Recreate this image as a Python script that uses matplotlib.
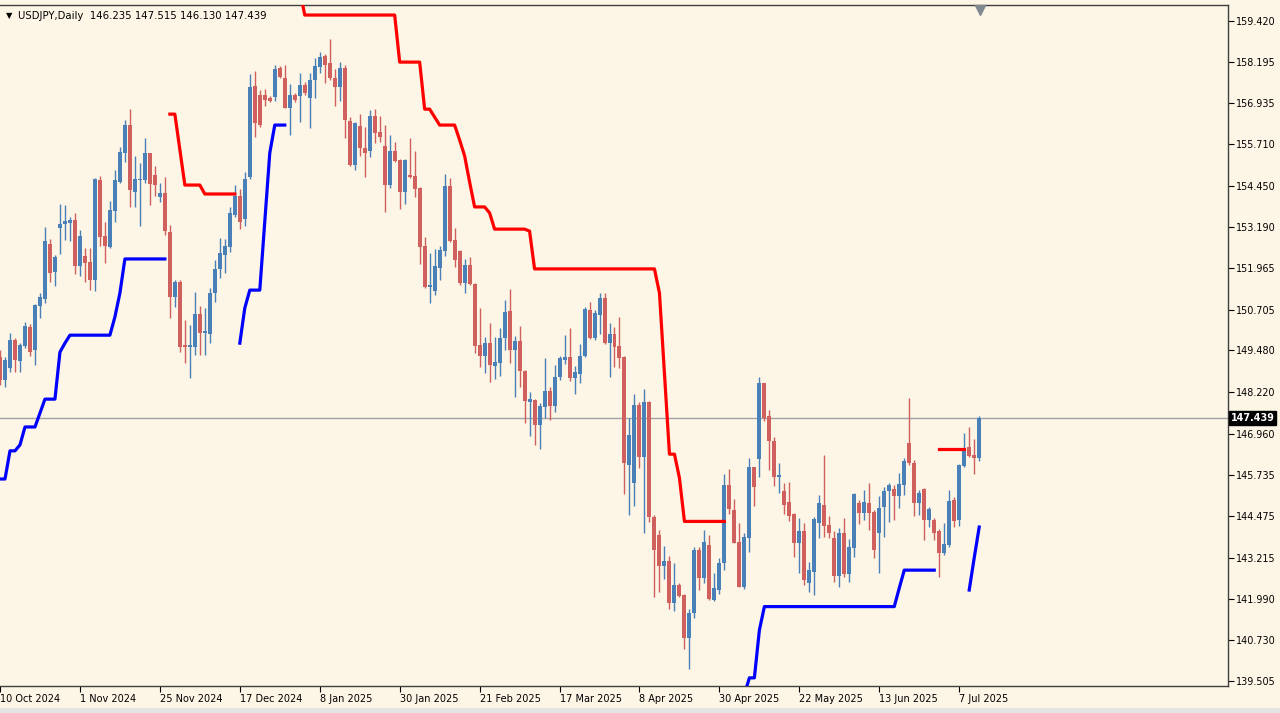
import numpy as np
import pandas as pd
import matplotlib.pyplot as plt
from matplotlib.patches import Rectangle

# USDJPY daily candles, 10 Oct 2024 .. 11 Jul 2025 (one bar per weekday)
dates = pd.bdate_range('2024-10-10', periods=197)

opens = [149.29, 148.59, 148.94, 149.78, 149.17, 149.60, 150.18, 149.50, 150.82, 151.03,
         152.69, 151.86, 153.16, 153.29, 153.32, 153.42, 152.03, 152.33, 152.14, 151.61,
         154.62, 152.93, 152.61, 153.69, 154.57, 155.43, 156.28, 154.27, 154.62, 154.62,
         155.43, 154.77, 154.10, 154.22, 153.04, 151.10, 151.53, 149.64, 149.59, 149.59,
         150.58, 150.02, 149.99, 151.20, 151.93, 152.36, 152.61, 153.57, 154.14, 153.46,
         154.72, 157.46, 157.19, 157.19, 157.09, 157.12, 157.99, 157.71, 156.81, 157.19,
         157.16, 157.49, 157.09, 157.64, 158.04, 158.36, 158.14, 157.71, 157.44, 157.99,
         156.41, 155.07, 156.25, 155.58, 155.51, 156.55, 156.06, 155.65, 154.47, 155.51,
         155.23, 154.27, 154.77, 154.74, 154.37, 152.63, 151.38, 151.28, 151.96, 152.49,
         154.44, 152.81, 152.48, 151.50, 152.06, 151.48, 149.64, 149.31, 149.71, 149.01,
         149.09, 149.84, 150.67, 149.49, 149.77, 148.87, 147.93, 147.98, 147.23, 147.78,
         148.27, 147.80, 148.69, 149.19, 149.27, 148.66, 148.77, 149.31, 150.70, 149.84,
         150.55, 151.05, 149.69, 149.99, 149.61, 149.27, 146.02, 145.47, 147.83, 146.25,
         147.91, 144.46, 143.91, 142.98, 143.14, 141.85, 142.40, 142.10, 140.81, 141.55,
         143.46, 142.60, 143.61, 141.95, 142.25, 143.06, 145.42, 144.66, 143.71, 142.35,
         143.81, 145.95, 146.19, 148.49, 147.50, 146.76, 145.65, 145.24, 144.90, 144.54,
         143.66, 144.04, 142.45, 142.80, 144.28, 144.82, 144.21, 143.81, 142.67, 143.96,
         142.73, 143.51, 144.87, 144.56, 144.87, 144.61, 143.96, 144.77, 145.25, 145.29,
         145.09, 145.42, 146.70, 146.09, 144.89, 145.29, 144.36, 144.36, 144.04, 143.36,
         143.61, 144.97, 144.36, 145.99, 146.56, 146.32, 146.235]
highs = [149.49, 149.29, 150.00, 149.85, 149.70, 150.35, 150.28, 150.88, 151.21, 153.19,
         152.83, 152.36, 153.90, 153.86, 153.52, 153.64, 153.10, 152.56, 152.56, 154.69,
         154.73, 153.37, 154.00, 154.92, 155.63, 156.43, 156.75, 155.36, 155.13, 155.88,
         155.45, 155.03, 154.52, 154.72, 153.26, 151.60, 151.60, 150.40, 150.25, 151.25,
         150.82, 150.75, 151.35, 152.21, 152.86, 152.83, 153.82, 154.47, 154.34, 154.87,
         157.82, 157.92, 157.34, 157.36, 157.16, 158.09, 158.06, 158.09, 157.51, 157.25,
         157.86, 157.59, 157.86, 158.29, 158.49, 158.42, 158.87, 157.96, 158.19, 158.09,
         156.51, 156.38, 156.61, 156.23, 156.73, 156.75, 156.56, 156.28, 155.97, 155.78,
         155.25, 155.25, 155.88, 155.51, 154.40, 152.91, 152.43, 152.53, 152.63, 154.80,
         154.67, 153.16, 152.51, 152.23, 152.31, 151.50, 150.75, 149.87, 150.30, 149.87,
         150.17, 151.00, 151.32, 149.91, 150.22, 148.90, 148.24, 148.02, 147.90, 149.24,
         148.39, 149.04, 149.31, 149.95, 150.17, 149.01, 149.67, 150.80, 150.95, 150.70,
         151.20, 151.22, 150.30, 150.20, 150.50, 149.30, 147.43, 148.16, 147.93, 148.31,
         147.95, 144.50, 144.06, 143.58, 143.28, 143.08, 142.45, 142.13, 141.67, 143.56,
         143.56, 144.06, 143.91, 142.75, 143.21, 145.74, 145.89, 144.99, 144.28, 143.98,
         146.22, 145.97, 148.67, 148.50, 147.68, 146.88, 146.09, 145.47, 145.52, 144.56,
         144.41, 144.28, 143.10, 144.46, 145.12, 146.32, 144.48, 144.04, 144.11, 144.43,
         143.78, 145.17, 144.97, 145.27, 145.49, 144.65, 145.09, 145.37, 145.49, 145.42,
         145.77, 146.22, 148.03, 146.17, 145.27, 145.32, 144.76, 144.41, 144.08, 144.26,
         145.27, 145.05, 146.05, 147.00, 147.18, 146.80, 147.515]
lows = [148.44, 148.39, 148.84, 148.84, 148.84, 149.55, 149.31, 149.04, 150.45, 150.90,
        151.53, 151.41, 152.39, 152.81, 152.79, 151.78, 151.74, 151.53, 151.29, 151.26,
        152.63, 152.11, 152.58, 153.37, 154.52, 155.17, 153.82, 153.82, 153.24, 154.52,
        153.87, 154.14, 153.97, 152.96, 150.45, 150.80, 149.44, 149.09, 148.64, 149.34,
        149.34, 149.34, 149.69, 150.95, 151.66, 151.81, 152.46, 153.52, 153.13, 153.23,
        154.65, 155.93, 156.23, 156.85, 156.99, 157.02, 157.69, 156.78, 155.98, 156.98,
        156.38, 157.19, 156.18, 157.09, 157.84, 157.56, 157.65, 156.85, 157.02, 155.88,
        155.04, 154.92, 155.35, 154.72, 155.31, 155.73, 155.78, 153.67, 154.37, 155.17,
        153.74, 153.90, 154.67, 154.12, 152.09, 151.35, 150.92, 151.15, 151.60, 152.33,
        152.75, 151.99, 151.45, 151.20, 151.45, 149.39, 148.99, 148.79, 148.54, 148.61,
        148.71, 149.49, 149.09, 148.08, 148.39, 147.28, 146.90, 146.63, 146.50, 147.43,
        147.38, 147.63, 148.59, 149.07, 148.57, 148.15, 148.51, 149.27, 149.81, 149.79,
        149.99, 149.66, 148.69, 148.99, 148.94, 145.15, 144.51, 144.79, 145.92, 143.96,
        144.31, 142.05, 142.20, 142.57, 141.67, 141.63, 142.05, 140.46, 139.86, 141.40,
        142.25, 142.45, 141.95, 141.93, 142.13, 142.85, 144.54, 143.66, 142.33, 142.27,
        143.41, 144.79, 145.65, 147.36, 145.87, 145.39, 145.19, 144.54, 144.34, 143.26,
        142.77, 142.40, 142.20, 142.10, 143.81, 143.86, 143.81, 142.50, 142.35, 142.63,
        142.50, 143.26, 144.24, 144.36, 144.06, 143.21, 142.77, 143.86, 144.31, 144.36,
        144.74, 145.12, 146.02, 144.48, 144.51, 143.76, 144.16, 143.76, 142.65, 143.31,
        143.56, 144.16, 144.18, 145.97, 146.25, 145.75, 146.130]
closes = [148.59, 149.19, 149.78, 149.19, 149.65, 150.22, 149.42, 150.85, 151.08, 152.78,
          151.81, 152.29, 153.30, 153.39, 153.42, 152.03, 152.93, 152.11, 151.61, 154.64,
          152.89, 152.63, 153.72, 154.62, 155.46, 156.28, 154.32, 154.65, 154.66, 155.43,
          154.50, 154.47, 154.22, 153.08, 151.10, 151.53, 149.59, 149.57, 149.60, 150.58,
          150.02, 150.05, 151.20, 151.94, 152.43, 152.63, 153.64, 154.14, 153.36, 154.65,
          157.42, 156.35, 156.28, 157.04, 157.02, 157.97, 157.74, 156.81, 157.19, 157.04,
          157.49, 157.26, 157.64, 158.06, 158.34, 158.09, 157.71, 157.44, 157.99, 156.43,
          155.07, 156.33, 155.58, 155.43, 156.55, 156.03, 155.93, 154.47, 155.51, 155.20,
          154.27, 155.23, 154.72, 154.34, 152.59, 151.38, 151.45, 152.03, 152.51, 154.44,
          152.79, 152.21, 151.50, 152.06, 151.48, 149.61, 149.31, 149.71, 149.04, 149.12,
          149.84, 150.63, 149.49, 149.77, 148.87, 147.96, 148.00, 147.23, 147.80, 148.27,
          147.80, 148.67, 149.24, 149.27, 148.66, 148.82, 149.31, 150.72, 149.84, 150.60,
          151.05, 149.69, 149.99, 149.57, 149.24, 146.07, 146.93, 147.83, 146.25, 147.91,
          144.46, 143.46, 142.98, 143.14, 141.85, 142.40, 142.07, 140.81, 141.57, 143.46,
          142.60, 143.71, 141.97, 142.30, 143.08, 145.42, 144.69, 143.68, 142.35, 143.84,
          145.95, 145.35, 148.49, 147.43, 146.76, 145.65, 145.72, 144.82, 144.48, 143.66,
          144.04, 142.55, 142.85, 144.38, 144.87, 144.18, 143.98, 142.67, 143.96, 142.73,
          143.54, 145.15, 144.56, 144.90, 144.58, 143.46, 144.74, 145.25, 145.42, 145.09,
          145.45, 146.15, 146.07, 144.89, 145.19, 144.36, 144.71, 143.98, 143.36, 143.64,
          144.95, 144.34, 146.02, 146.53, 146.29, 146.22, 147.439]

# trend-line indicator: (first bar, values)
blue_segments = [
    (0, [145.60, 145.60, 146.45, 146.45, 146.63, 147.17, 147.17, 147.17, 147.59, 148.01,
         148.01, 148.01, 149.43, 149.70] + [149.94] * 9 + [150.49, 151.21] + [152.24] * 9),
    (48, [149.70, 150.76, 151.30, 151.30, 151.30, 153.39, 155.44, 156.28, 156.28, 156.28]),
    (146, [139.10] * 4 + [139.60, 139.60, 141.04] + [141.75] * 27 + [142.31] + [142.85] * 7),
    (194, [142.25, 143.22, 144.15]),
]
red_segments = [
    (34, [156.61, 156.61, 155.53, 154.47, 154.47, 154.47, 154.47] + [154.20] * 7),
    (58, [160.40, 160.40, 160.35] + [159.60] * 19 + [158.18] * 5 + [156.76, 156.76, 156.52]
         + [156.28] * 4 + [155.83, 155.35, 154.56, 153.81, 153.81, 153.81, 153.63]
         + [153.14] * 7 + [153.08] + [151.94] * 25 + [151.21, 148.80, 146.35, 146.35, 145.63]
         + [144.32] * 9),
    (188, [146.50] * 6),
]

price_ticks = [159.420, 158.195, 156.935, 155.710, 154.450, 153.190, 151.965, 150.705,
               149.480, 148.220, 146.960, 145.735, 144.475, 143.215, 141.990, 140.730, 139.505]
last_price = 147.439

bg = '#FDF5E6'
up_col = '#4A80B8'
dn_col = '#D0605E'

W, H = 1280, 713
fig = plt.figure(figsize=(W / 100, H / 100), dpi=100, facecolor=bg)
ax = fig.add_axes([0, 1 - 686 / H, 1228 / W, (686 - 5) / H])
ax.set_facecolor(bg)

n = len(opens)
x = np.arange(n)
o = np.array(opens)
c = np.array(closes)
cols = [up_col if c[i] >= o[i] else dn_col for i in range(n)]

# wicks then bodies
ax.vlines(x, lows, highs, colors=cols, linewidth=1.0, zorder=2)
body = c - o
body = np.where(np.abs(body) < 0.04, 0.04, body)
ax.bar(x, body, bottom=o, width=0.8, color=cols, linewidth=0, zorder=3)


def seg_array(start, vals):
    arr = np.full(n, np.nan)
    arr[start:start + len(vals)] = vals
    return arr


for start, vals in blue_segments:
    ax.plot(x, seg_array(start, vals), color='#0000FF', lw=2.3, zorder=4)
for start, vals in red_segments:
    ax.plot(x, seg_array(start, vals), color='#FF0000', lw=2.3, zorder=4)

ax.axhline(last_price, color='#A0A4A8', lw=1.0, zorder=1)

ax.set_xlim(0.2, 245.8)
ax.set_ylim(139.354, 159.903)

# price axis on the right
ax.yaxis.tick_right()
ax.set_yticks(price_ticks)
ax.set_yticklabels(['%.3f' % p for p in price_ticks])
ax.tick_params(axis='y', direction='out', length=4, width=0.8, pad=2,
               labelsize=6.9, colors='black')

# date axis
tick_idx = list(range(0, n, 16))
ax.set_xticks(tick_idx)
ax.set_xticklabels([f'{dates[i].day} {dates[i]:%b %Y}' for i in tick_idx], ha='left')
ax.tick_params(axis='x', direction='out', length=4, width=0.8, pad=2,
               labelsize=7.0, colors='black')

ax.spines['left'].set_visible(False)
for side in ['right', 'bottom', 'top']:
    ax.spines[side].set_color('#404040')
    ax.spines[side].set_linewidth(1.0)

# current price box
ax.text(1.002, last_price, '%.3f' % last_price, transform=ax.get_yaxis_transform(),
        ha='left', va='center', fontsize=6.9, color='white', fontweight='bold',
        bbox=dict(boxstyle='square,pad=0.2', fc='black', ec='black'))

# chart shift marker
ax.plot([n - 1 + 0.2], [0.993], marker='v', ms=7, color='#808890',
        transform=ax.get_xaxis_transform(), clip_on=False, zorder=5)

# header
fig.text(6 / W, 1 - 16 / H, '\u25BC', fontsize=6, va='center', ha='left', color='black')
fig.text(18 / W, 1 - 16 / H,
         'USDJPY,Daily  %.3f %.3f %.3f %.3f' % (opens[-1], highs[-1], lows[-1], closes[-1]),
         fontsize=7.3, va='center', ha='left', color='black')

# scroll strip at the bottom
fig.patches.append(Rectangle((0, 0), 1, 5 / H, transform=fig.transFigure,
                             fc='#E4E4E4', ec='none'))

fig.savefig('out.png', dpi=100, facecolor=bg)
